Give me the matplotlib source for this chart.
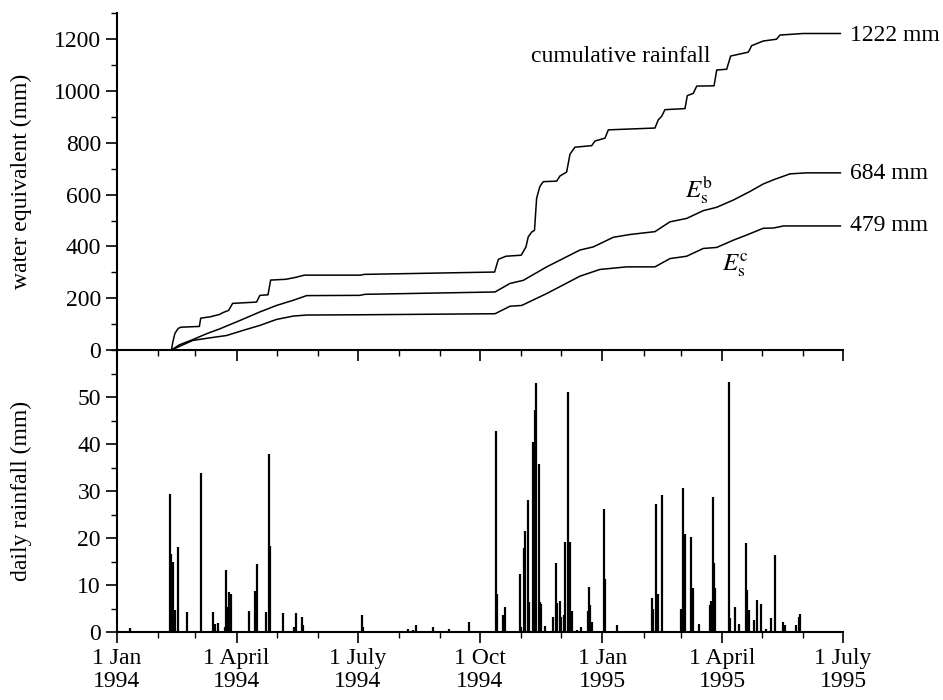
import numpy as np
import matplotlib
matplotlib.use("Agg")
import matplotlib.pyplot as plt
import matplotlib.dates as mdates
from matplotlib.ticker import MultipleLocator, FuncFormatter

plt.rcParams['font.family'] = ['Liberation Serif', 'DejaVu Serif']
plt.rcParams['mathtext.fontset'] = 'stix'
plt.rcParams['font.size'] = 17

start = np.datetime64('1994-01-01')

# cumulative rainfall (day since 1 Jan 1994, mm)
rain_cum_day = [41, 42, 43.6, 46, 48, 62, 63, 70, 77, 80, 84, 87, 105, 107.5, 113.6, 115.6,
                127, 134, 141, 183, 186, 284, 286.8, 292.5, 304, 307.6, 309.3, 312, 314,
                315.6, 318, 320.6, 330.7, 333.2, 338.2, 340.7, 344.4, 357, 359.5, 367, 369.5,
                404.6, 407.1, 409.6, 412.1, 427.2, 428.9, 433.4, 436, 449, 451, 458.5, 461.5,
                474.8, 477.3, 486, 496, 498.6, 516, 544]
rain_cum_mm = [0, 30, 64, 83, 88, 91, 123, 128, 137, 145, 153, 180, 185, 211, 213, 270,
               273, 280, 289, 289, 292, 301, 350, 362, 366, 398, 437, 456, 462,
               586, 631, 650, 652, 672, 687, 756, 783, 789, 807, 818, 850,
               857, 889, 902, 928, 932, 982, 991, 1019, 1020, 1081, 1084, 1135,
               1150, 1175, 1193, 1200, 1216, 1222, 1222]

# E_s^b
esb_day = [41, 47, 57, 67.5, 77.5, 92.5, 107.5, 120, 132.6, 142.7, 182.7, 186.5, 284.3,
           295.6, 305.6, 323.2, 348.2, 358.2, 373.2, 385.8, 404.6, 415.9, 428.4, 440.9,
           451, 463.5, 476, 486, 493.6, 506.1, 518.7, 544]
esb_mm = [0, 20, 40, 63, 82, 114, 147, 172, 192, 210, 211, 215, 224,
          257, 269, 321, 386, 398, 435, 446, 457, 495, 508, 538,
          551, 579, 612, 641, 657, 680, 684, 684]

# E_s^c
esc_day = [41, 57, 70, 82.5, 95, 107.5, 120, 132.6, 142.7, 182.7, 284.3, 295.6, 304.4,
           323.2, 348.2, 363.2, 383.3, 404.6, 415.9, 428.4, 440.9, 451, 463.5, 473.6,
           486, 493.6, 498.6, 501.1, 544]
esc_mm = [0, 37, 47, 56, 76, 95, 118, 131, 135, 136, 140, 169, 172,
          218, 285, 311, 321, 321, 353, 362, 392, 396, 424, 444,
          470, 471, 476, 479, 479]

# daily rainfall (day since 1 Jan 1994, mm)
daily_day = [10, 14, 40, 41, 42, 44, 46, 53, 63, 72, 74, 76, 81, 82, 83, 84, 85, 86,
             99, 104, 105, 112, 114, 115, 125, 133, 135, 139, 140, 184, 185, 219, 223,
             225, 238, 250, 265, 285, 286, 290, 292, 303, 304, 306, 307, 309, 310, 313,
             314, 315, 317, 318, 319, 322, 328, 330, 331, 333, 334, 336, 337, 339, 341,
             342, 346, 349, 354, 355, 356, 357, 366, 367, 376, 402, 403, 405, 407, 410,
             424, 426, 427, 432, 433, 438, 446, 447, 448, 449, 450, 460, 461, 465, 468,
             473, 474, 475, 479, 481, 484, 488, 492, 495, 501, 502, 511, 513, 514]
daily_mm = [0.8, 0.3, 29.3, 16.7, 15.0, 4.8, 18.2, 4.3, 33.8, 4.3, 1.8, 2.0, 1.0, 13.3, 5.4,
            8.6, 8.2, 8.1, 4.5, 8.8, 14.5, 4.3, 37.9, 18.4, 4.0, 1.1, 4.1, 3.3, 1.5, 3.6,
            1.0, 0.6, 0.4, 1.5, 1.0, 0.6, 2.2, 42.8, 8.2, 3.6, 5.4, 12.3, 1.0, 17.8, 21.6,
            28.2, 6.4, 40.5, 47.2, 53.0, 35.7, 6.4, 6.0, 1.4, 3.3, 14.6, 6.2, 6.6, 3.3,
            3.6, 19.2, 51.1, 19.2, 4.4, 0.5, 1.0, 4.4, 9.6, 5.8, 2.2, 26.2, 11.3, 1.6,
            7.3, 4.9, 27.2, 8.2, 29.1, 4.9, 30.7, 20.8, 20.3, 9.4, 1.7, 5.7, 6.7, 28.8,
            14.7, 9.4, 53.3, 3.0, 5.4, 1.8, 18.9, 9.0, 4.7, 2.5, 6.8, 5.9, 0.6, 2.9,
            16.4, 2.2, 1.5, 1.5, 3.3, 3.9]

month_names = {1: 'Jan', 4: 'April', 7: 'July', 10: 'Oct'}


def to_dates(days):
    return start + (np.array(days) * 24).astype('timedelta64[h]')


fig = plt.figure(figsize=(9.43, 7.0), dpi=100)
ax1 = fig.add_axes([0.124, 0.5, 0.770, 0.481])
ax2 = fig.add_axes([0.124, 0.097, 0.770, 0.403], sharex=ax1)
ax2.patch.set_visible(False)  # let the top panel's ticks show through

ax1.plot(to_dates(rain_cum_day), rain_cum_mm, color='black', lw=1.1)
ax1.plot(to_dates(esb_day), esb_mm, color='black', lw=1.1)
ax1.plot(to_dates(esc_day), esc_mm, color='black', lw=1.1)

ax2.vlines(to_dates(daily_day), 0, daily_mm, color='black', lw=1.6)

x0 = np.datetime64('1994-01-01')
x1 = np.datetime64('1995-07-01')
ax1.set_xlim(x0, x1)
ax1.set_ylim(0, 1300)
ax2.set_ylim(0, 60)

for ax in (ax1, ax2):
    ax.spines['top'].set_visible(False)
    ax.spines['right'].set_visible(False)
    ax.spines['left'].set_linewidth(1.5)
    ax.spines['bottom'].set_linewidth(1.5)
    ax.tick_params(which='major', direction='out', length=8, width=1.2)
    ax.tick_params(which='minor', direction='out', length=4, width=1.0)

ax1.yaxis.set_major_locator(MultipleLocator(200))
ax1.yaxis.set_minor_locator(MultipleLocator(100))
ax2.yaxis.set_major_locator(MultipleLocator(10))
ax2.yaxis.set_minor_locator(MultipleLocator(5))
ax2.set_yticks([0, 10, 20, 30, 40, 50])

ax2.xaxis.set_major_locator(mdates.MonthLocator(bymonth=[1, 4, 7, 10]))
ax2.xaxis.set_minor_locator(mdates.MonthLocator())


def fmt_date(x, pos):
    d = mdates.num2date(x)
    return '1 %s\n%d' % (month_names[d.month], d.year)


ax2.xaxis.set_major_formatter(FuncFormatter(fmt_date))
plt.setp(ax1.get_xticklabels(), visible=False)
for lab in ax2.get_xticklabels():
    lab.set_linespacing(1.1)

ax1.set_ylabel('water equivalent (mm)', fontsize=17)
ax2.set_ylabel('daily rainfall (mm)', fontsize=17)
ax1.yaxis.set_label_coords(-0.117, 0.5)
ax2.yaxis.set_label_coords(-0.117, 0.5)

ax1.text(to_dates([311])[0], 1135, 'cumulative rainfall', fontsize=17, va='center', ha='left')
ax1.text(to_dates([551])[0], 1213, '1222 mm', fontsize=17, va='center', ha='left', clip_on=False)
ax1.text(to_dates([551])[0], 683, '684 mm', fontsize=17, va='center', ha='left', clip_on=False)
ax1.text(to_dates([551])[0], 480, '479 mm', fontsize=17, va='center', ha='left', clip_on=False)
ax1.text(to_dates([427])[0], 620, r'$E_\mathrm{s}^\mathrm{b}$', fontsize=18, va='center', ha='left')
ax1.text(to_dates([455])[0], 327, r'$E_\mathrm{s}^\mathrm{c}$', fontsize=18, va='center', ha='left')

fig.savefig('out.png', dpi=100)
